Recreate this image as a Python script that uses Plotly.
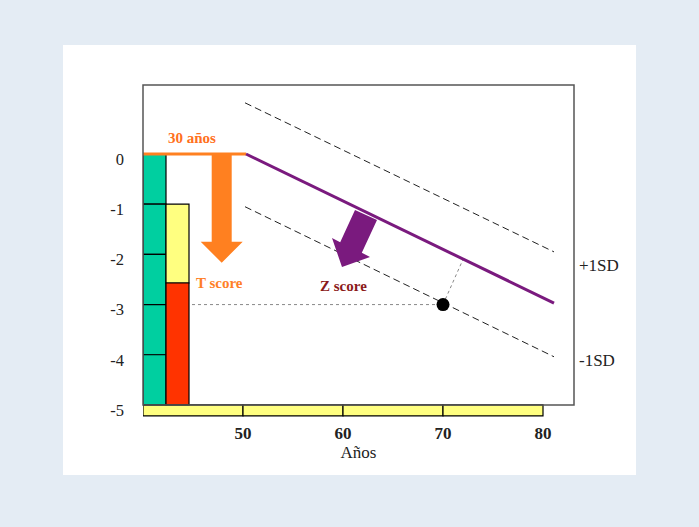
import plotly.graph_objects as go

# ages / axis
age_ticks = [50, 60, 70, 80]
sd_ticks = [0, -1, -2, -3, -4, -5]

# left columns: reference SD blocks, patient T score
sd_block_tops = [0, -1, -2, -3, -4]
t_score_start = -1.0
t_score = -2.57
t_score_floor = -5.0

# age curve (mean and +/-1SD bands)
mean_age = [50.3, 81.1]
mean_bmd = [0.0, -2.97]
upper_age = [50.2, 81.1]
upper_bmd = [1.02, -1.95]
lower_age = [50.2, 81.1]
lower_bmd = [-1.05, -4.04]
young_age = [40, 50.3]
young_bmd = [0.0, 0.0]

# patient
patient_age = 70
patient_bmd = -3.0
proj_age = 72
proj_bmd = -2.1

# arrows (polygon outlines)
t_arrow_x = [46.87, 48.87, 48.87, 49.97, 47.87, 45.77, 46.87]
t_arrow_y = [0.0, 0.0, -1.75, -1.75, -2.165, -1.75, -1.75]
z_arrow_x = [61.2, 63.4, 61.88, 62.7, 59.9, 58.9, 59.72]
z_arrow_y = [-1.116, -1.315, -1.966, -2.052, -2.251, -1.673, -1.759]

SERIF = "Liberation Serif"
YMIN, YMAX = -5.24, 1.375
XMIN, XMAX = 40, 83.1


def ypaper(v):
    return (v - YMIN) / (YMAX - YMIN)


fig = go.Figure()

# yellow age strip under the plot
fig.add_trace(go.Bar(x=[a - 5 for a in age_ticks], y=[0.219] * 4, base=[-5.219] * 4, width=10,
                     marker=dict(color="#ffff80", line=dict(color="black", width=1.2)),
                     hoverinfo="skip"))
# teal SD blocks
fig.add_trace(go.Bar(x=[41.15] * len(sd_block_tops), y=[-1] * len(sd_block_tops), base=sd_block_tops,
                     width=2.3, marker=dict(color="#00cfa0", line=dict(color="black", width=1.2))))
# T score column
fig.add_trace(go.Bar(x=[43.45], y=[t_score - t_score_start], base=[t_score_start], width=2.3,
                     marker=dict(color="#ffff80", line=dict(color="black", width=1.2))))
fig.add_trace(go.Bar(x=[43.45], y=[t_score_floor - t_score], base=[t_score], width=2.3,
                     marker=dict(color="#ff3300", line=dict(color="black", width=1.2))))

# bands
fig.add_trace(go.Scatter(x=upper_age, y=upper_bmd, mode="lines",
                         line=dict(color="#222", width=1, dash="7px,4px")))
fig.add_trace(go.Scatter(x=lower_age, y=lower_bmd, mode="lines",
                         line=dict(color="#222", width=1, dash="7px,4px")))
# dotted guides
fig.add_trace(go.Scatter(x=[44.9, patient_age], y=[patient_bmd, patient_bmd], mode="lines",
                         line=dict(color="#888", width=1, dash="dot")))
fig.add_trace(go.Scatter(x=[patient_age, proj_age], y=[patient_bmd, proj_bmd], mode="lines",
                         line=dict(color="#888", width=1, dash="dot")))
# young reference + decline
fig.add_trace(go.Scatter(x=young_age, y=young_bmd, mode="lines", line=dict(color="#ff8020", width=3)))
fig.add_trace(go.Scatter(x=mean_age, y=mean_bmd, mode="lines", line=dict(color="#7a1a7e", width=3)))
# arrows
fig.add_trace(go.Scatter(x=t_arrow_x, y=t_arrow_y, mode="lines", fill="toself",
                         fillcolor="#ff8020", line=dict(width=0, color="#ff8020")))
fig.add_trace(go.Scatter(x=z_arrow_x, y=z_arrow_y, mode="lines", fill="toself",
                         fillcolor="#7a1a7e", line=dict(width=0, color="#7a1a7e")))
# patient point
fig.add_trace(go.Scatter(x=[patient_age], y=[patient_bmd], mode="markers",
                         marker=dict(color="black", size=13)))

# white card + frame
fig.add_shape(type="rect", xref="paper", yref="paper", x0=-0.1856, x1=1.1439, y0=-0.1747, y1=1.1205,
              fillcolor="white", line=dict(width=0), layer="below")
fig.add_shape(type="rect", xref="paper", yref="paper", x0=0, x1=1, y0=ypaper(-5), y1=1,
              line=dict(color="#555", width=1.5))

ann = [
    dict(x=44.9, y=0.32, text="<b>30 años</b>", color="#ff7020", size=15, anchor="center", xref="x"),
    dict(x=47.6, y=-2.57, text="<b>T score</b>", color="#ff7f27", size=15, anchor="center", xref="x"),
    dict(x=60.0, y=-2.63, text="<b>Z score</b>", color="#8b1a1a", size=15, anchor="center", xref="x"),
    dict(x=1.006, y=-2.23, text="+1SD", color="#222", size=17, anchor="left", xref="paper"),
    dict(x=1.006, y=-4.12, text="-1SD", color="#222", size=17, anchor="left", xref="paper"),
]
for a in ann:
    fig.add_annotation(x=a["x"], y=a["y"], xref=a["xref"], yref="y", text=a["text"], showarrow=False,
                       xanchor=a["anchor"], font=dict(family=SERIF, size=a["size"], color=a["color"]))

fig.update_layout(
    width=699, height=527,
    margin=dict(l=143, r=125, t=85, b=110),
    paper_bgcolor="#e4ecf4", plot_bgcolor="white",
    barmode="overlay", showlegend=False,
    font=dict(family=SERIF, color="#222"),
)
fig.update_xaxes(range=[XMIN, XMAX], tickvals=age_ticks, ticktext=[f"<b>{a}</b>" for a in age_ticks],
                 tickfont=dict(size=17), showgrid=False, zeroline=False, showline=False,
                 ticks="", ticklabelstandoff=4,
                 title=dict(text="Años", font=dict(size=17), standoff=2))
fig.update_yaxes(range=[YMIN, YMAX], tickvals=sd_ticks, ticktext=[str(v) for v in sd_ticks],
                 tickfont=dict(size=16.5), showgrid=False, zeroline=False, showline=False,
                 ticks="", ticklabelstandoff=18, ticklabelshift=5)

fig.write_html("out.html", config={"displayModeBar": False},
               post_script="document.body.style.margin='0';")
